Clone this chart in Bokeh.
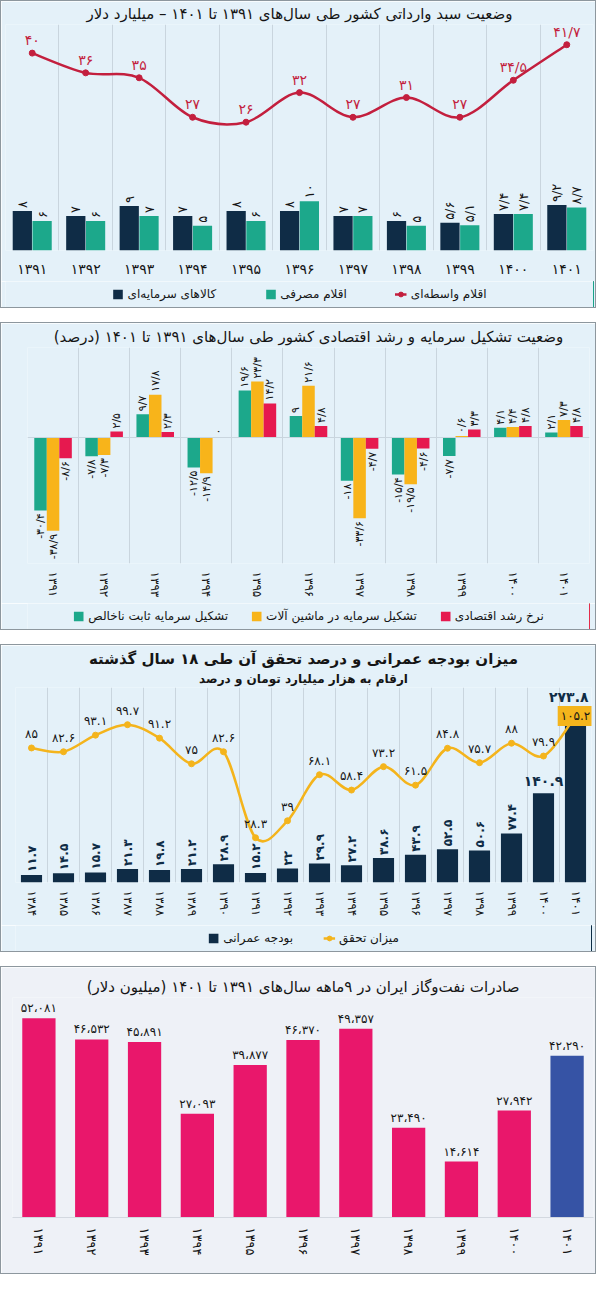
import math
from bokeh.plotting import figure
from bokeh.models import (ColumnDataSource, FixedTicker, Legend, LegendItem, Range1d,
                          Span, Label, Title)
from bokeh.layouts import column
from bokeh.embed import file_html
from bokeh.resources import INLINE
from bokeh.core.properties import value
from bokeh.transform import dodge

# ---------------- data ----------------
# Panel 1: imports basket (billion dollars)
import_years = [1391, 1392, 1393, 1394, 1395, 1396, 1397, 1398, 1399, 1400, 1401]
import_capital_goods = [8, 7, 9, 7, 8, 8, 7, 6, 5.6, 7.4, 9.2]
import_consumer_goods = [6, 6, 7, 5, 6, 10, 7, 5, 5.1, 7.4, 8.7]
import_intermediate_goods = [40, 36, 35, 27, 26, 32, 27, 31, 27, 34.5, 41.7]

# Panel 2: capital formation and growth (percent)
capital_years = [1391, 1392, 1393, 1394, 1395, 1396, 1397, 1398, 1399, 1400, 1401]
gross_fixed_capital = [-30.4, -7.8, 9.7, -12.5, 19.6, 9, -18, -15.4, -7.7, 4.1, 2.1]
machinery_capital = [-38.9, -7.3, 17.8, -14.9, 23.3, 21.6, -33.6, -19.5, 0.6, 4.4, 7.3]
economic_growth = [-8.6, 2.5, 2.3, 0, 14.2, 4.8, -4.7, -4.6, 3.3, 4.8, 4.8]

# Panel 3: development budget (thousand billion toman) and realization (%)
budget_years = [1384, 1385, 1386, 1387, 1388, 1389, 1390, 1391, 1392, 1393,
                1394, 1395, 1396, 1397, 1398, 1399, 1400, 1401]
development_budget = [11.7, 14.5, 15.7, 21.3, 19.8, 21.2, 28.9, 15.2, 22, 29.9,
                      27.2, 38.6, 43.9, 52.5, 50.6, 77.4, 140.9, 273.8]
budget_realization = [85, 82.6, 93.1, 99.7, 91.2, 75, 82.6, 28.3, 39, 68.1,
                      58.4, 73.2, 61.5, 84.8, 75.7, 88, 79.9, 105.2]

# Panel 4: oil & gas exports, 9 months (million dollars)
oil_years = [1391, 1392, 1393, 1394, 1395, 1396, 1397, 1398, 1399, 1400, 1401]
oil_gas_exports = [52081, 46532, 45891, 27093, 39877, 46370, 49357, 23490, 14614, 27942, 42290]

# ---------------- style ----------------
W = 594
HM = 280      # main figure height (panels with legend)
HL = 26       # legend strip height
FONT = "DejaVu Sans"
BG = "#e4f1f9"
BG4 = "#eef1f7"
GRID = "#c9d5de"
NAVY = "#0f2c46"
TEAL = "#1ca88b"
RED_LINE = "#c31f3e"
ORANGE = "#f8b41a"
CRIMSON = "#e6194f"
YELLOW = "#f4b41c"
PINK = "#e9176b"
BLUE = "#3653a5"
TXT = "#151515"
BORDER = {"border": "1px solid #8d979e"}

DIGITS = str.maketrans("0123456789", "۰۱۲۳۴۵۶۷۸۹")
RLM = "\u200f"


def fa_num(v, dec="/"):
    return ("%g" % v).replace(".", dec).translate(DIGITS)


def fa_thousands(v):
    return f"{v:,}".replace(",", "،").translate(DIGITS)


def rtl(s):
    return RLM + s + RLM


def smooth(xs, ys):
    n = len(xs)
    d = dict(x0=[], y0=[], x1=[], y1=[], cx0=[], cy0=[], cx1=[], cy1=[])
    for i in range(n - 1):
        xp, yp = (xs[i - 1], ys[i - 1]) if i > 0 else (xs[i], ys[i])
        xn, yn = (xs[i + 2], ys[i + 2]) if i + 2 < n else (xs[i + 1], ys[i + 1])
        d["x0"].append(xs[i]); d["y0"].append(ys[i])
        d["x1"].append(xs[i + 1]); d["y1"].append(ys[i + 1])
        d["cx0"].append(xs[i] + (xs[i + 1] - xp) / 6.0)
        d["cy0"].append(ys[i] + (ys[i + 1] - yp) / 6.0)
        d["cx1"].append(xs[i + 1] - (xn - xs[i]) / 6.0)
        d["cy1"].append(ys[i + 1] - (yn - ys[i]) / 6.0)
    return d


def base_fig(n, y_range, bg, mb, height, title=""):
    p = figure(width=W, height=height, x_range=Range1d(-0.5, n - 0.5), y_range=y_range,
               output_backend="svg", toolbar_location=None, y_axis_location=None,
               background_fill_color=bg, border_fill_color=bg, outline_line_color=None,
               min_border_left=mb[0], min_border_right=mb[1],
               min_border_top=mb[2], min_border_bottom=mb[3])
    p.title.text = rtl(title) if title else ""
    p.title.align = "center"
    p.title.text_font = FONT
    p.title.text_font_size = "15px"
    p.title.text_font_style = "normal"
    p.title.text_color = TXT
    p.title.standoff = 3
    ax = p.xaxis[0]
    ax.axis_line_color = None
    ax.major_tick_line_color = None
    ax.minor_tick_line_color = None
    ax.major_tick_out = 0
    ax.major_tick_in = 0
    ax.major_label_text_font = FONT
    ax.major_label_text_color = TXT
    p.xgrid.ticker = FixedTicker(ticks=[i + 0.5 for i in range(-1, n)])
    p.xgrid.grid_line_color = GRID
    p.ygrid.grid_line_color = None
    return p


def legend_fig(bg, entries, spacing):
    # legend strip; its renderers carry the series data but lie outside the strip's view
    lf = figure(width=W, height=HL, x_range=Range1d(0, 1), y_range=Range1d(0, 1),
                output_backend="svg", toolbar_location=None, title_location=None,
                x_axis_location=None, y_axis_location=None,
                background_fill_color=bg, border_fill_color=bg, outline_line_color=None,
                min_border=0)
    lf.xgrid.visible = False
    lf.ygrid.visible = False
    items = []
    for label, kind, color, xs, ys in entries:
        if kind == "box":
            rs = [lf.vbar(x=xs, top=ys, width=0.5, fill_color=color, line_color=None)]
        else:
            rs = [lf.line(x=xs, y=ys, line_color=color, line_width=2.5),
                  lf.scatter(x=xs, y=ys, size=6, fill_color=color, line_color=color)]
        items.append(LegendItem(label=value(rtl(label)), renderers=rs))
    leg = Legend(items=items, orientation="horizontal", location="center")
    leg.background_fill_alpha = 0
    leg.border_line_color = None
    leg.label_text_font = FONT
    leg.label_text_font_size = "12px"
    leg.label_text_color = TXT
    leg.glyph_width = 12
    leg.glyph_height = 12
    leg.label_standoff = 4
    leg.spacing = spacing
    leg.padding = 0
    leg.margin = 0
    lf.add_layout(leg)
    return lf


def vlabels(p, xs, vals, texts, size, color, style="normal", pad=3, y_range_name="default"):
    pos = dict(x=[], y=[], t=[])
    neg = dict(x=[], y=[], t=[])
    for x, v, t in zip(xs, vals, texts):
        d = pos if v >= 0 else neg
        d["x"].append(x); d["y"].append(v); d["t"].append(t)
    common = dict(angle=math.pi / 2, text_baseline="middle", text_font=value(FONT),
                  text_font_size=size, text_color=color, text_font_style=style,
                  y_range_name=y_range_name)
    if pos["x"]:
        p.text(x="x", y="y", text="t", source=ColumnDataSource(pos), text_align="left",
               y_offset=-pad, **common)
    if neg["x"]:
        p.text(x="x", y="y", text="t", source=ColumnDataSource(neg), text_align="right",
               y_offset=pad, **common)


# ================= Panel 1 =================
n1 = len(import_years)
idx1 = list(range(n1))
p1 = base_fig(n1, Range1d(0, 45.8), BG, (4, 2, 20, 31), HM,
              "وضعیت سبد وارداتی کشور طی سال‌های ۱۳۹۱ تا ۱۴۰۱ – میلیارد دلار")
src1 = ColumnDataSource(dict(x=idx1, cap=import_capital_goods, con=import_consumer_goods,
                             mid=import_intermediate_goods,
                             mid_t=[fa_num(v) for v in import_intermediate_goods]))
p1.vbar(x=dodge("x", -0.185), top="cap", width=0.36, source=src1, fill_color=NAVY, line_color=None)
p1.vbar(x=dodge("x", 0.185), top="con", width=0.36, source=src1, fill_color=TEAL, line_color=None)
vlabels(p1, [i - 0.185 for i in idx1], import_capital_goods,
        [fa_num(v) for v in import_capital_goods], "13px", TXT)
vlabels(p1, [i + 0.185 for i in idx1], import_consumer_goods,
        [fa_num(v) for v in import_consumer_goods], "13px", TXT)
p1.bezier(x0="x0", y0="y0", x1="x1", y1="y1", cx0="cx0", cy0="cy0", cx1="cx1", cy1="cy1",
          source=ColumnDataSource(smooth(idx1, import_intermediate_goods)),
          line_color=RED_LINE, line_width=2.5)
p1.scatter(x="x", y="mid", source=src1, size=6, fill_color=RED_LINE, line_color=RED_LINE)
p1.text(x="x", y="mid", text="mid_t", source=src1, y_offset=-5, text_align="center",
        text_baseline="bottom", text_color=RED_LINE, text_font=value(FONT), text_font_size="14px")
a1 = p1.xaxis[0]
a1.ticker = FixedTicker(ticks=idx1)
a1.major_label_overrides = {i: fa_num(y) for i, y in enumerate(import_years)}
a1.major_label_text_font_size = "14px"
a1.major_label_standoff = 10
l1 = legend_fig(BG, [("کالاهای سرمایه‌ای", "box", NAVY, import_years, import_capital_goods),
                     ("اقلام مصرفی", "box", TEAL, import_years, import_consumer_goods),
                     ("اقلام واسطه‌ای", "line", RED_LINE, import_years, import_intermediate_goods)], 48)

# ================= Panel 2 =================
n2 = len(capital_years)
idx2 = list(range(n2))
p2 = base_fig(n2, Range1d(-52.5, 37.5), BG, (26, 6, 24, 40), HM,
              "وضعیت تشکیل سرمایه و رشد اقتصادی کشور طی سال‌های ۱۳۹۱ تا ۱۴۰۱ (درصد)")
p2.add_layout(Span(location=0, dimension="width", line_color=GRID, line_width=1))
src2 = ColumnDataSource(dict(x=idx2, g=gross_fixed_capital, m=machinery_capital, e=economic_growth))
p2.vbar(x=dodge("x", -0.245), top="g", width=0.245, source=src2, fill_color=TEAL, line_color=None)
p2.vbar(x=dodge("x", 0.0), top="m", width=0.245, source=src2, fill_color=ORANGE, line_color=None)
p2.vbar(x=dodge("x", 0.245), top="e", width=0.245, source=src2, fill_color=CRIMSON, line_color=None)
for off, vals in ((-0.245, gross_fixed_capital), (0.0, machinery_capital), (0.245, economic_growth)):
    vlabels(p2, [i + off for i in idx2], vals, [fa_num(v) for v in vals], "11px", TXT)
a2 = p2.xaxis[0]
a2.ticker = FixedTicker(ticks=idx2)
a2.major_label_overrides = {i: fa_num(y) for i, y in enumerate(capital_years)}
a2.major_label_orientation = "vertical"
a2.major_label_text_font_size = "12px"
a2.major_label_standoff = 8
l2 = legend_fig(BG, [("تشکیل سرمایه ثابت ناخالص", "box", TEAL, capital_years, gross_fixed_capital),
                     ("تشکیل سرمایه در ماشین آلات", "box", ORANGE, capital_years, machinery_capital),
                     ("نرخ رشد اقتصادی", "box", CRIMSON, capital_years, economic_growth)], 22)

# ================= Panel 3 =================
n3 = len(budget_years)
idx3 = list(range(n3))
Y3 = 308.0
p3 = base_fig(n3, Range1d(0, Y3), BG, (14, 4, 42, 43), HM,
              "میزان بودجه عمرانی و درصد تحقق آن طی ۱۸ سال گذشته")
p3.title.text_font_style = "bold"
p3.title.standoff = 1
p3.add_layout(Title(text=rtl("ارقام به هزار میلیارد تومان و درصد"), align="center",
                    text_font=FONT, text_font_size="12px", text_font_style="bold",
                    text_color=TXT, standoff=3), "above")
p3.extra_y_ranges = {"pct": Range1d(0, Y3 / 2.5)}
src3 = ColumnDataSource(dict(x=idx3, b=development_budget, r=budget_realization))
p3.vbar(x="x", top="b", width=0.66, source=src3, fill_color=NAVY, line_color=None)
small = [(i, v) for i, v in zip(idx3, development_budget) if v < 100]
big = [(i, v) for i, v in zip(idx3, development_budget) if v >= 100]
vlabels(p3, [i for i, v in small], [v for i, v in small], [fa_num(v, ".") for i, v in small],
        "12px", NAVY, style="bold")
for i, v in big:
    last = (i == idx3[-1])
    p3.add_layout(Label(x=i, y=v, text=fa_num(v, "."), y_offset=4,
                        x_offset=13 if last else 0,
                        text_align="right" if last else "center",
                        text_baseline="bottom", text_color=NAVY, text_font=FONT,
                        text_font_size="14px", text_font_style="bold"))
p3.bezier(x0="x0", y0="y0", x1="x1", y1="y1", cx0="cx0", cy0="cy0", cx1="cx1", cy1="cy1",
          source=ColumnDataSource(smooth(idx3, budget_realization)),
          line_color=YELLOW, line_width=2.5, y_range_name="pct")
p3.scatter(x="x", y="r", source=src3, size=6, fill_color=YELLOW, line_color=YELLOW,
           y_range_name="pct")
p3.text(x=idx3[:-1], y=budget_realization[:-1], text=[fa_num(v, ".") for v in budget_realization[:-1]],
        y_offset=-7, text_align="center", text_baseline="bottom", text_color=TXT,
        text_font=value(FONT), text_font_size="12px", y_range_name="pct")
p3.add_layout(Label(x=idx3[-1], y=budget_realization[-1], y_range_name="pct",
                    text=fa_num(budget_realization[-1], "."), text_align="center",
                    text_baseline="middle", text_font=FONT, text_font_size="12px",
                    text_color=TXT, background_fill_color=YELLOW, padding=3))
a3 = p3.xaxis[0]
a3.ticker = FixedTicker(ticks=idx3)
a3.major_label_overrides = {i: fa_num(y) for i, y in enumerate(budget_years)}
a3.major_label_orientation = "vertical"
a3.major_label_text_font_size = "12px"
a3.major_label_standoff = 8
l3 = legend_fig(BG, [("بودجه عمرانی", "box", NAVY, budget_years, development_budget),
                     ("میزان تحقق", "line", YELLOW, budget_years, budget_realization)], 30)

# ================= Panel 4 =================
n4 = len(oil_years)
idx4 = list(range(n4))
p4 = base_fig(n4, Range1d(0, 57500), BG4, (11, 2, 30, 56), HM + HL,
              "صادرات نفت‌وگاز ایران در ۹ماهه سال‌های ۱۳۹۱ تا ۱۴۰۱ (میلیون دلار)")
p4.xgrid.grid_line_color = None
src4 = ColumnDataSource(dict(x=idx4, v=oil_gas_exports,
                             c=[PINK] * (n4 - 1) + [BLUE],
                             t=[fa_thousands(v) for v in oil_gas_exports]))
p4.vbar(x="x", top="v", width=0.63, source=src4, fill_color="c", line_color=None)
p4.text(x="x", y="v", text="t", source=src4, y_offset=-3, text_align="center",
        text_baseline="bottom", text_color=TXT, text_font=value(FONT), text_font_size="12px")
a4 = p4.xaxis[0]
a4.ticker = FixedTicker(ticks=idx4)
a4.major_label_overrides = {i: fa_num(y) for i, y in enumerate(oil_years)}
a4.major_label_orientation = "vertical"
a4.major_label_text_font_size = "13px"
a4.major_label_standoff = 10
a4.axis_line_color = "#d3d8e0"

panels = [
    column(p1, l1, spacing=0, styles=BORDER),
    column(p2, l2, spacing=0, styles=BORDER),
    column(p3, l3, spacing=0, styles=BORDER),
    column(p4, spacing=0, styles=BORDER),
]
layout = column(*panels, spacing=14)
open("out.html", "w").write(file_html(layout, INLINE))
